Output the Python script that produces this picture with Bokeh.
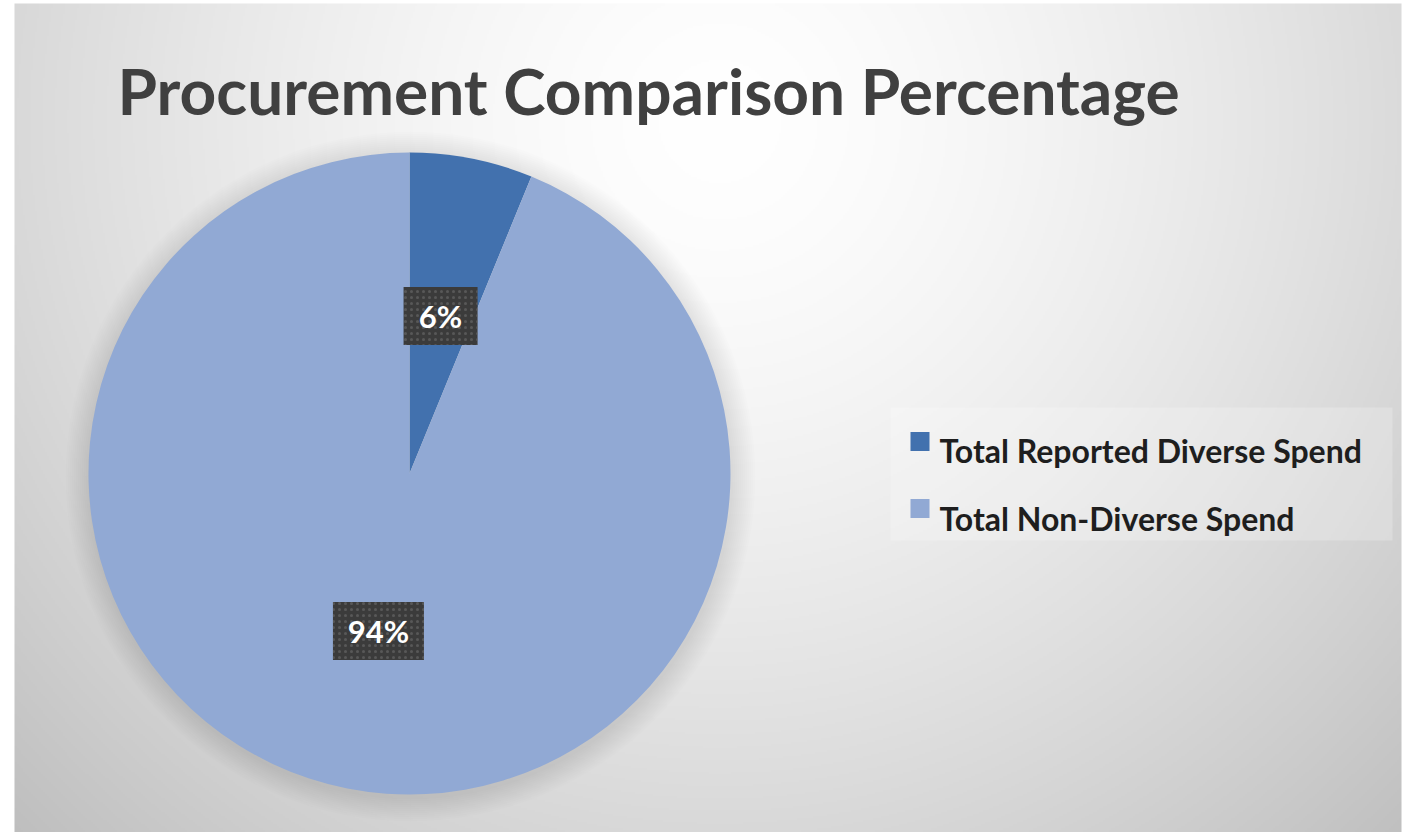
import numpy as np
from bokeh.plotting import figure
from bokeh.models import Range1d, ColumnDataSource
from bokeh.core.properties import value
from bokeh.embed import file_html
from bokeh.resources import INLINE

# ---- data ----
title_text = "Procurement Comparison Percentage"
categories = ["Total Reported Diverse Spend", "Total Non-Diverse Spend"]
shares = [6.2, 93.8]
colors = ["#4271AE", "#91A9D4"]

# ---- layout (page px, y measured up from the bottom) ----
W, H = 1409, 832
p = figure(width=W, height=H, output_backend="svg", toolbar_location=None,
           x_range=Range1d(0, W), y_range=Range1d(0, H), min_border=0)
p.axis.visible = False
p.grid.visible = False
p.outline_line_color = None
p.background_fill_color = "white"
p.border_fill_color = "white"

# background gradient (style)
step = 2
xs = np.arange(14, 1401, step) + step / 2
ys = np.arange(0, 829, step) + step / 2
X, Y = np.meshgrid(xs, ys)
PY = H - Y
t = np.sqrt(((X - 720) / 900.0) ** 2 + ((PY - 120) / 900.0) ** 2)
g = np.clip(255 - 55 * t ** 1.5, 0, 255).astype(np.uint32)
img = (np.uint32(255) << 24) | (g << 16) | (g << 8) | g
p.image_rgba(image=[img.astype(np.uint32)], x=14, y=0, dw=1387, dh=829)

cx, cy, R = 409, H - 473, 321

# soft shadow
for k in range(1, 13):
    p.circle(x=[cx + 1], y=[cy - 3], radius=R + 2 * k, fill_color="black",
             fill_alpha=0.007, line_color=None)

frac = np.array(shares) / sum(shares)
cum = np.concatenate([[0], np.cumsum(frac)])
start = np.pi / 2 - 2 * np.pi * cum[1:]
end = np.pi / 2 - 2 * np.pi * cum[:-1]
mid = (start + end) / 2
labels = [f"{round(v)}%" for v in shares]
src = ColumnDataSource(dict(cat=categories, start=start, end=end, color=colors,
                            lx=cx + 0.5 * R * np.cos(mid), ly=cy + 0.5 * R * np.sin(mid),
                            lab=labels, bw=[40 + 17 * len(s) for s in labels]))
p.wedge(x=cx, y=cy, radius=R, start_angle="start", end_angle="end",
        direction="anticlock", fill_color="color", line_color=None, source=src)

# data label boxes
p.rect(x="lx", y="ly", width="bw", height=58, width_units="screen", height_units="screen",
       fill_color="#3b3b3b", line_color=None, hatch_pattern="dot", hatch_color="#6a6a6a",
       hatch_scale=6, hatch_alpha=0.6, source=src)
p.text(x="lx", y="ly", text="lab", text_align="center", text_baseline="middle",
       text_font=value("Lato"), text_font_style="bold", text_font_size="31px",
       text_color="white", source=src)

# title
p.text(x=[117], y=[H - 90], text=[title_text], text_font=value("Lato"),
       text_font_style="bold", text_font_size="64px", text_color="#404040",
       text_align="left", text_baseline="alphabetic")

# legend (drawn manually)
p.quad(left=[890], right=[1392], top=[H - 407], bottom=[H - 540],
       fill_color="white", fill_alpha=0.22, line_color=None)
leg_y = [H - 441, H - 508]
p.scatter(x=[919.5] * len(categories), y=leg_y, marker="square", size=19,
          fill_color=colors, line_color=None)
p.text(x=[939] * len(categories), y=[H - 450, H - 518], text=categories,
       text_font=value("Lato"), text_font_style="bold", text_font_size="32px",
       text_color="#1e1e1e", text_align="left", text_baseline="alphabetic")

open("out.html", "w").write(file_html(p, INLINE))
